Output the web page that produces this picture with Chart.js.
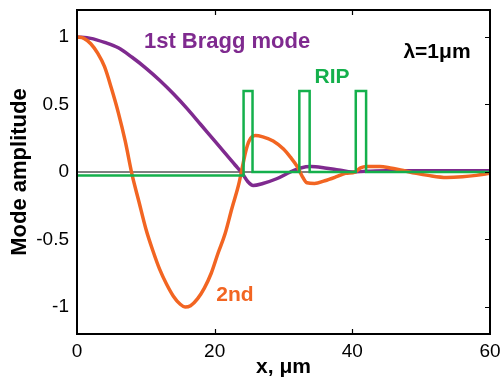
<!DOCTYPE html>
<html>
<head>
<meta charset="utf-8">
<script src="https://cdn.jsdelivr.net/npm/chart.js@4.4.1/dist/chart.umd.min.js"></script>
<style>
  html, body { margin: 0; padding: 0; background: #fff; }
  canvas { display: block; }
</style>
</head>
<body>
<canvas id="modes" width="501" height="381"></canvas>
<script>
// tick labels
var xTicks = [0, 20, 40, 60];
var yTicks = [-1, -0.5, 0, 0.5, 1];

// 1st Bragg mode
var braggX = [0, 2, 4, 6, 8, 10, 12, 14, 16, 18, 20, 22, 23, 24, 24.8, 25.6, 27, 29, 31, 32.5, 34, 36, 38, 40, 42, 45, 50, 55, 60];
var braggY = [1.0, 0.99, 0.96, 0.92, 0.85, 0.77, 0.68, 0.58, 0.47, 0.35, 0.23, 0.11, 0.05, -0.01, -0.07, -0.1, -0.085, -0.05, 0.0, 0.03, 0.04, 0.03, 0.015, 0.0, 0.005, 0.01, 0.01, 0.01, 0.01];

// 2nd mode
var secondX = [0, 1, 2, 3, 4, 5, 6, 7, 8, 9, 10, 11, 12, 13, 14, 15, 15.7, 16.5, 17.5, 18.5, 19.5, 20.5, 21.5, 22.5, 23.5, 24, 24.5, 25, 25.9, 27, 28.5, 30, 31, 32, 32.7, 33.4, 34.5, 36, 37.7, 39, 40.4, 41.2, 42.1, 44, 45.5, 47, 49.3, 51, 53.7, 56, 58, 60];
var secondY = [1.0, 0.99, 0.95, 0.88, 0.78, 0.62, 0.44, 0.23, -0.02, -0.22, -0.42, -0.58, -0.72, -0.83, -0.92, -0.98, -1.0, -0.99, -0.94, -0.86, -0.75, -0.6, -0.46, -0.27, -0.09, 0.03, 0.15, 0.23, 0.27, 0.26, 0.23, 0.17, 0.11, 0.04, -0.03, -0.08, -0.085, -0.065, -0.035, -0.01, 0.0, 0.03, 0.04, 0.04, 0.03, 0.015, -0.01, -0.025, -0.04, -0.035, -0.025, -0.01];

// RIP profile (step)
var ripX = [0, 24.2, 24.2, 25.5, 25.5, 32.3, 32.3, 33.8, 33.8, 40.5, 40.5, 42, 42, 60];
var ripY = [-0.025, -0.025, 0.6, 0.6, 0, 0, 0.6, 0.6, 0, 0, 0.6, 0.6, 0, 0];

// zero line
var zeroX = [0, 60];
var zeroY = [0, 0];

function pts(xs, ys) {
    return xs.map(function (x, i) { return { x: x, y: ys[i] }; });
}

var FONT = "'Liberation Sans', Arial, Helvetica, sans-serif";
Chart.defaults.font.family = FONT;
Chart.defaults.color = "#000";

// text labels inside the plot, placed in data units
var notes = [
    { text: "1st Bragg mode", x: 21.8, y: 0.922, color: "#7f2a8f", size: 22 },
    { text: "RIP", x: 37.05, y: 0.656, color: "#14b04c", size: 21 },
    { text: "λ=1μm", x: 52.3, y: 0.848, color: "#000", size: 21 },
    { text: "2nd", x: 22.95, y: -0.959, color: "#f26522", size: 21 },
];

var framePlugin = {
    id: "frame",
    afterDatasetsDraw: function (chart) {
        var c = chart.ctx, a = chart.chartArea;
        var sx = chart.scales.x, sy = chart.scales.y;
        c.save();
        c.strokeStyle = "#000";
        c.lineWidth = 2;
        c.strokeRect(a.left, a.top, a.right - a.left, a.bottom - a.top);
        c.lineWidth = 1.2;
        c.beginPath();
        xTicks.forEach(function (v) {
            var px = Math.round(sx.getPixelForValue(v)) + 0.5;
            if (v === 0 || v === 60) return;
            c.moveTo(px, a.bottom); c.lineTo(px, a.bottom - 5);
            c.moveTo(px, a.top); c.lineTo(px, a.top + 5);
        });
        yTicks.forEach(function (v) {
            var py = Math.round(sy.getPixelForValue(v)) + 0.5;
            c.moveTo(a.right, py); c.lineTo(a.right - 5, py);
        });
        c.stroke();
        c.textAlign = "center";
        c.textBaseline = "alphabetic";
        notes.forEach(function (n) {
            c.font = "bold " + n.size + "px " + FONT;
            c.fillStyle = n.color;
            c.fillText(n.text, sx.getPixelForValue(n.x), sy.getPixelForValue(n.y));
        });
        c.restore();
    }
};

new Chart(document.getElementById("modes"), {
    type: "line",
    data: {
        datasets: [
            {
                label: "RIP",
                data: pts(ripX, ripY),
                borderColor: "#14b04c",
                borderWidth: 2.5,
                tension: 0,
                order: 0,
            },
            {
                label: "2nd",
                data: pts(secondX, secondY),
                borderColor: "#f26522",
                borderWidth: 3.5,
                cubicInterpolationMode: "monotone",
                order: 1,
            },
            {
                label: "1st Bragg mode",
                data: pts(braggX, braggY),
                borderColor: "#7f2a8f",
                borderWidth: 3.5,
                cubicInterpolationMode: "monotone",
                order: 2,
            },
            {
                label: "zero",
                data: pts(zeroX, zeroY),
                borderColor: "#000",
                borderWidth: 1,
                order: 3,
            },
        ]
    },
    options: {
        responsive: false,
        animation: false,
        events: [],
        elements: { point: { radius: 0 } },
        layout: { padding: { left: 0, right: 11, top: 10, bottom: 0 } },
        plugins: { legend: { display: false }, tooltip: { enabled: false } },
        scales: {
            x: {
                type: "linear",
                min: 0,
                max: 60,
                grid: { display: false, drawTicks: false },
                border: { display: false },
                afterBuildTicks: function (s) { s.ticks = xTicks.map(function (v) { return { value: v }; }); },
                afterFit: function (s) { s.height = 47; s.paddingLeft = 0; s.paddingRight = 0; },
                ticks: { font: { size: 19 }, padding: 6, maxRotation: 0, autoSkip: false },
                title: { display: true, text: "x, μm", font: { size: 21, weight: "bold" }, padding: { top: 0, bottom: 1 } },
            },
            y: {
                min: -1.2,
                max: 1.2,
                grid: { display: false, drawTicks: false },
                border: { display: false },
                afterBuildTicks: function (s) { s.ticks = yTicks.map(function (v) { return { value: v }; }); },
                afterFit: function (s) { s.width = 77; s.paddingTop = 0; s.paddingBottom = 0; },
                ticks: {
                    font: { size: 19 },
                    padding: 8,
                    autoSkip: false,
                    callback: function (v) { return String(v); }
                },
                title: { display: true, text: "Mode amplitude", font: { size: 22, weight: "bold" }, padding: { top: 7, bottom: 0 } },
            },
        }
    },
    plugins: [framePlugin]
});
</script>
</body>
</html>
